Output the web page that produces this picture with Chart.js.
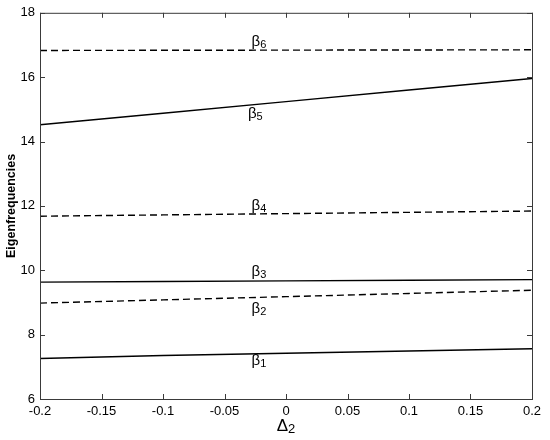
<!DOCTYPE html>
<html>
<head>
<meta charset="utf-8">
<script src="https://cdn.jsdelivr.net/npm/chart.js@4"></script>
<style>
  html, body { margin: 0; padding: 0; background: #fff; }
  #wrap { width: 550px; height: 440px; }
</style>
</head>
<body>
<div id="wrap"><canvas id="chart"></canvas></div>
<script>
// Δ2 values along the x axis
const delta2 = [-0.2, -0.1, 0, 0.1, 0.2];

// eigenfrequency curves
const beta1 = [7.26, 7.35, 7.42, 7.49, 7.56];
const beta2 = [8.98, 9.08, 9.18, 9.28, 9.38];
const beta3 = [9.63, 9.65, 9.67, 9.69, 9.71];
const beta4 = [11.68, 11.72, 11.76, 11.80, 11.84];
const beta5 = [14.52, 14.88, 15.24, 15.60, 15.96];
const beta6 = [16.83, 16.835, 16.84, 16.845, 16.85];

const curveNames = ["1", "2", "3", "4", "5", "6"];
const dashedCurve = [false, true, false, true, false, true];

// where the β labels sit, in data units
const labelX = [-0.022, -0.022, -0.022, -0.022, -0.025, -0.022];
const labelY = [7.19, 8.80, 9.95, 12.0, 14.87, 17.10];

const xTickLabels = ["-0.2", "-0.15", "-0.1", "-0.05", "0", "0.05", "0.1", "0.15", "0.2"];
const yTickLabels = ["6", "8", "10", "12", "14", "16", "18"];

const allSeries = [beta1, beta2, beta3, beta4, beta5, beta6];

const FONT = "'Liberation Sans', Arial, Helvetica, sans-serif";

const datasets = allSeries.map((vals, i) => ({
    label: "beta" + curveNames[i],
    data: vals.map((v, k) => ({ x: delta2[k], y: v })),
    borderColor: "#000",
    borderWidth: 1.4,
    borderDash: dashedCurve[i] ? [7, 4] : [],
    pointRadius: 0,
    fill: false,
    tension: 0
}));

// box + inward ticks + labels + axis titles
const matlabLook = {
    id: "matlabLook",
    afterDraw(chart) {
        const ctx = chart.ctx;
        const a = chart.chartArea;
        const xs = chart.scales.x, ys = chart.scales.y;
        ctx.save();
        ctx.strokeStyle = "#3a3a3a";
        ctx.lineWidth = 1;
        ctx.strokeRect(a.left + 0.5, a.top + 0.5, a.right - a.left, a.bottom - a.top);

        const tl = 5;
        ctx.beginPath();
        xs.ticks.forEach(t => {
            const px = Math.round(xs.getPixelForValue(t.value)) + 0.5;
            ctx.moveTo(px, a.bottom); ctx.lineTo(px, a.bottom - tl);
            ctx.moveTo(px, a.top); ctx.lineTo(px, a.top + tl);
        });
        ys.ticks.forEach(t => {
            const py = Math.round(ys.getPixelForValue(t.value)) + 0.5;
            ctx.moveTo(a.left, py); ctx.lineTo(a.left + tl, py);
            ctx.moveTo(a.right, py); ctx.lineTo(a.right - tl, py);
        });
        ctx.stroke();

        // curve labels β with subscript digit
        ctx.fillStyle = "#000";
        ctx.textBaseline = "middle";
        curveNames.forEach((n, i) => {
            const px = xs.getPixelForValue(labelX[i]);
            const py = ys.getPixelForValue(labelY[i]);
            ctx.font = "15px " + FONT;
            const wb = ctx.measureText("β").width;
            ctx.font = "11px " + FONT;
            const ws = ctx.measureText(n).width;
            const x0 = px - (wb + ws) / 2;
            ctx.font = "15px " + FONT;
            ctx.textAlign = "left";
            ctx.fillText("β", x0, py);
            ctx.font = "11px " + FONT;
            ctx.fillText(n, x0 + wb, py + 3);
        });

        // x title Δ2
        const cx = (a.left + a.right) / 2;
        ctx.font = "17px " + FONT;
        const wd = ctx.measureText("Δ").width;
        ctx.font = "13px " + FONT;
        const w2 = ctx.measureText("2").width;
        const tx = cx - (wd + w2) / 2;
        ctx.font = "17px " + FONT;
        ctx.fillText("Δ", tx, 426);
        ctx.font = "13px " + FONT;
        ctx.fillText("2", tx + wd, 429);

        // y title
        ctx.translate(12, (a.top + a.bottom) / 2);
        ctx.rotate(-Math.PI / 2);
        ctx.textAlign = "center";
        ctx.font = "bold 12.5px " + FONT;
        ctx.fillText("Eigenfrequencies", 0, 0);
        ctx.restore();
    }
};

new Chart(document.getElementById("chart"), {
    type: "line",
    data: { datasets },
    options: {
        responsive: true,
        maintainAspectRatio: false,
        animation: false,
        layout: { padding: { left: 0, right: 18, top: 11, bottom: 0 } },
        plugins: { legend: { display: false }, tooltip: { enabled: false } },
        scales: {
            x: {
                type: "linear",
                min: -0.2, max: 0.2,
                afterBuildTicks(scale) {
                    scale.ticks = xTickLabels.map(s => ({ value: parseFloat(s) }));
                },
                afterFit(scale) { scale.height = 41; },
                grid: { display: false, drawTicks: false },
                border: { display: false },
                ticks: {
                    color: "#000",
                    padding: 5,
                    maxRotation: 0,
                    autoSkip: false,
                    font: { family: FONT, size: 13 },
                    callback: (v, i) => xTickLabels[i]
                }
            },
            y: {
                type: "linear",
                min: 6, max: 18,
                afterBuildTicks(scale) {
                    scale.ticks = yTickLabels.map(s => ({ value: parseFloat(s) }));
                },
                afterFit(scale) { scale.width = 40; },
                grid: { display: false, drawTicks: false },
                border: { display: false },
                ticks: {
                    color: "#000",
                    padding: 5,
                    autoSkip: false,
                    font: { family: FONT, size: 13 },
                    callback: (v, i) => yTickLabels[i]
                }
            }
        }
    },
    plugins: [matlabLook]
});
</script>
</body>
</html>
